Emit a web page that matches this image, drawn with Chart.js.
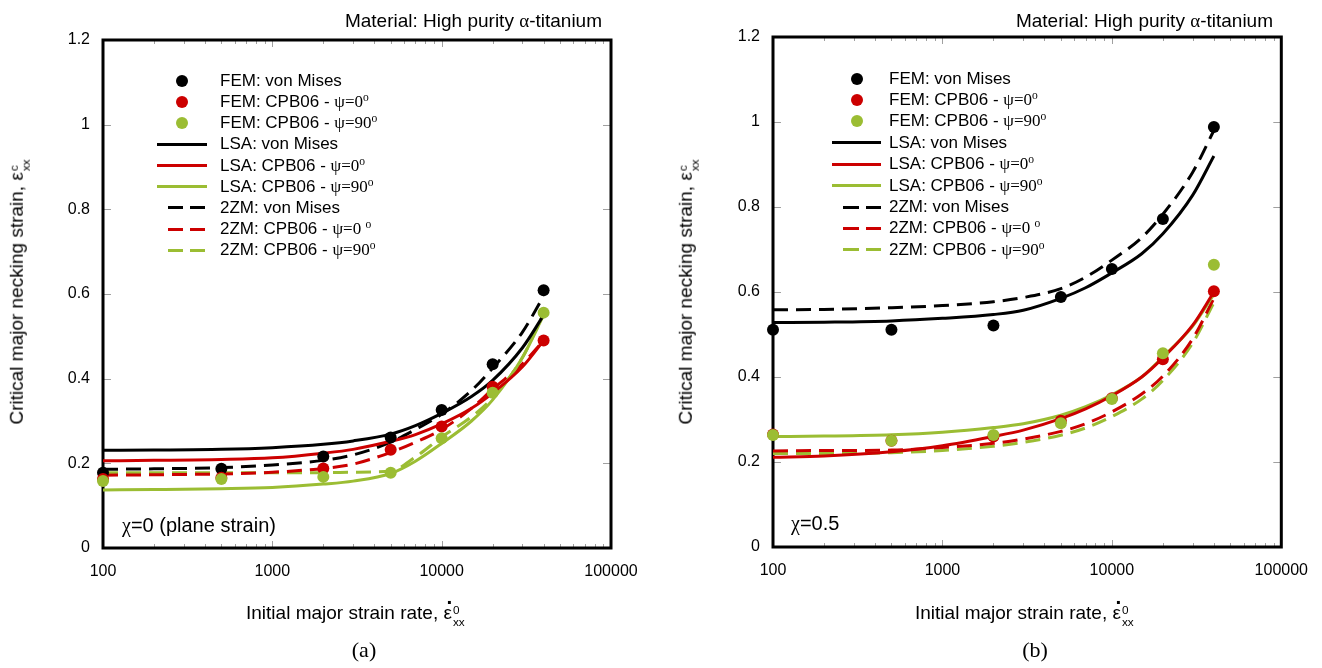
<!DOCTYPE html>
<html>
<head>
<meta charset="utf-8">
<script src="https://cdn.jsdelivr.net/npm/chart.js@4.4.1/dist/chart.umd.min.js"></script>
<style>
  body { margin: 0; background: #fff; }
  #page { position: relative; width: 1322px; height: 668px; overflow: hidden; font-family: "Liberation Sans", Arial, sans-serif; color: #000; }
  canvas { position: absolute; top: 0; }
  .txt { position: absolute; white-space: nowrap; }
  .gr { font-family: "Liberation Serif", "Times New Roman", serif; }
  .deg { font-size: 0.68em; vertical-align: 0.55em; line-height: 0; }
  .st { display: inline-block; font-size: 0.62em; line-height: 1.05; vertical-align: -0.6em; margin-left: 1px; }
  .st span { display: block; }
  .ed { position: relative; display: inline-block; }
  .ed b { position: absolute; left: 3px; top: -16px; font-weight: bold; font-size: 1.1em; }
  .title { font-size: 19px; line-height: 22px; text-align: right; }
  .axt { font-size: 19px; line-height: 22px; }
  .leg { font-size: 17px; line-height: 20px; }
  .mk { position: absolute; }
  .cap { font-family: "Liberation Serif", "Times New Roman", serif; font-size: 22px; line-height: 24px; }
</style>
</head>
<body>
<div id="page">
  <canvas id="chartA" width="660" height="668" style="left:0"></canvas>
  <canvas id="chartB" width="662" height="668" style="left:660px"></canvas>
</div>
<script>
// strain rates where FEM runs were made, and where the model curves are read
const rateFem = [100, 500, 2000, 5000, 10000, 20000, 40000];
const rateModel = [100, 200, 500, 1000, 2000, 3000, 5000, 7000, 10000, 15000, 20000, 30000, 40000];
const xTickValues = [100, 1000, 10000, 100000];

// (a) chi = 0, plane strain
const femMisesA = [0.178, 0.187, 0.216, 0.261, 0.326, 0.434, 0.609];
const femPsi0A = [0.163, 0.166, 0.188, 0.232, 0.287, 0.381, 0.49];
const femPsi90A = [0.158, 0.163, 0.168, 0.178, 0.259, 0.367, 0.556];
const lsaMisesA = [0.231, 0.2315, 0.233, 0.237, 0.245, 0.253, 0.269, 0.289, 0.318, 0.358, 0.396, 0.473, 0.55];
const lsaPsi0A = [0.206, 0.207, 0.209, 0.213, 0.224, 0.233, 0.252, 0.268, 0.293, 0.33, 0.366, 0.428, 0.49];
const lsaPsi90A = [0.137, 0.138, 0.14, 0.143, 0.151, 0.158, 0.176, 0.205, 0.247, 0.3, 0.35, 0.45, 0.55];
const zmMisesA = [0.186, 0.187, 0.19, 0.196, 0.207, 0.22, 0.25, 0.28, 0.316, 0.372, 0.425, 0.51, 0.595];
const zmPsi0A = [0.172, 0.173, 0.175, 0.179, 0.188, 0.198, 0.226, 0.25, 0.28, 0.33, 0.375, 0.435, 0.49];
const zmPsi90A = [0.178, 0.178, 0.178, 0.178, 0.178, 0.179, 0.182, 0.215, 0.262, 0.31, 0.355, 0.45, 0.555];

// (b) chi = 0.5
const femMisesB = [0.511, 0.511, 0.521, 0.588, 0.654, 0.772, 0.988];
const femPsi0B = [0.265, 0.25, 0.26, 0.297, 0.35, 0.442, 0.602];
const femPsi90B = [0.2635, 0.25, 0.2635, 0.291, 0.348, 0.456, 0.664];
const lsaMisesB = [0.528, 0.529, 0.532, 0.538, 0.547, 0.557, 0.585, 0.61, 0.645, 0.69, 0.737, 0.828, 0.92];
const lsaPsi0B = [0.211, 0.214, 0.224, 0.238, 0.26, 0.275, 0.302, 0.325, 0.356, 0.4, 0.445, 0.522, 0.6];
const lsaPsi90B = [0.26, 0.261, 0.264, 0.27, 0.281, 0.29, 0.31, 0.33, 0.358, 0.4, 0.447, 0.52, 0.595];
const zmMisesB = [0.558, 0.559, 0.563, 0.568, 0.577, 0.587, 0.608, 0.635, 0.675, 0.728, 0.783, 0.882, 0.98];
const zmPsi0B = [0.226, 0.227, 0.228, 0.234, 0.244, 0.254, 0.272, 0.29, 0.318, 0.36, 0.402, 0.49, 0.585];
const zmPsi90B = [0.22, 0.22, 0.222, 0.227, 0.237, 0.246, 0.263, 0.28, 0.307, 0.348, 0.392, 0.48, 0.575];

const BLACK = '#000000', RED = '#cc0000', GREEN = '#9bbd33';
const FONT = '"Liberation Sans", Arial, sans-serif';

const legendLabels = [
  'FEM: von Mises',
  'FEM: CPB06 - <span class="gr">&psi;=0<span class="deg">o</span></span>',
  'FEM: CPB06 - <span class="gr">&psi;=90<span class="deg">o</span></span>',
  'LSA: von Mises',
  'LSA: CPB06 - <span class="gr">&psi;=0<span class="deg">o</span></span>',
  'LSA: CPB06 - <span class="gr">&psi;=90<span class="deg">o</span></span>',
  '2ZM: von Mises',
  '2ZM: CPB06 - <span class="gr">&psi;=0 <span class="deg">o</span></span>',
  '2ZM: CPB06 - <span class="gr">&psi;=90<span class="deg">o</span></span>'
];
const legendKinds = ['dot', 'dot', 'dot', 'solid', 'solid', 'solid', 'dash', 'dash', 'dash'];
const legendColors = [BLACK, RED, GREEN, BLACK, RED, GREEN, BLACK, RED, GREEN];

const pts = (xs, ys) => xs.map((x, i) => ({ x: x, y: ys[i] }));

function femSet(ys, color) {
  return { data: pts(rateFem, ys), showLine: false, pointRadius: 6, pointHoverRadius: 6,
    pointBackgroundColor: color, pointBorderWidth: 0, clip: false };
}
function curveSet(ys, color, dashed) {
  return { data: pts(rateModel, ys), showLine: true, pointRadius: 0, borderColor: color,
    borderWidth: 3, borderDash: dashed ? [15, 8] : [], cubicInterpolationMode: 'monotone', clip: false };
}

// frame and small inward tick marks, drawn under the data
const framePlugin = {
  id: 'frame',
  beforeDatasetsDraw(chart) {
    const { ctx, chartArea: a, scales: { x, y } } = chart;
    ctx.save();
    ctx.strokeStyle = '#a0a0a0';
    ctx.lineWidth = 1;
    ctx.beginPath();
    y.ticks.forEach(t => {
      const py = Math.round(y.getPixelForValue(t.value)) + 0.5;
      ctx.moveTo(a.left, py); ctx.lineTo(a.left + 8, py);
      ctx.moveTo(a.right - 8, py); ctx.lineTo(a.right, py);
    });
    for (let d = 100; d < 100000; d *= 10) {
      for (let m = 1; m < 10; m++) {
        const px = Math.round(x.getPixelForValue(d * m)) + 0.5;
        const len = m === 1 ? 7 : 4;
        ctx.moveTo(px, a.bottom); ctx.lineTo(px, a.bottom - len);
        ctx.moveTo(px, a.top); ctx.lineTo(px, a.top + len);
      }
    }
    ctx.stroke();
    ctx.strokeStyle = '#000';
    ctx.lineWidth = 3;
    ctx.strokeRect(a.left, a.top, a.right - a.left, a.bottom - a.top);
    ctx.restore();
  }
};

function makeChart(id, s, pad) {
  const tickFont = { family: FONT, size: 16 };
  return new Chart(document.getElementById(id), {
    type: 'scatter',
    data: {
      datasets: [
        femSet(s.fem90, GREEN), femSet(s.fem0, RED), femSet(s.femVM, BLACK),
        curveSet(s.lsaVM, BLACK, false), curveSet(s.lsa0, RED, false), curveSet(s.lsa90, GREEN, false),
        curveSet(s.zmVM, BLACK, true), curveSet(s.zm0, RED, true), curveSet(s.zm90, GREEN, true)
      ]
    },
    options: {
      responsive: false,
      animation: false,
      devicePixelRatio: 1,
      layout: { padding: pad },
      plugins: { legend: { display: false }, tooltip: { enabled: false } },
      scales: {
        x: {
          type: 'logarithmic', min: 100, max: 100000,
          grid: { display: false, drawTicks: false }, border: { display: false },
          afterBuildTicks: sc => { sc.ticks = xTickValues.map(v => ({ value: v })); },
          afterFit: sc => { sc.height = 50; },
          ticks: { font: tickFont, color: '#000', padding: 14, maxRotation: 0, autoSkip: false,
            callback: v => String(v) }
        },
        y: {
          min: 0, max: 1.2,
          grid: { display: false, drawTicks: false }, border: { display: false },
          afterFit: sc => { sc.width = 60; },
          ticks: { stepSize: 0.2, font: tickFont, color: '#000', padding: 13,
            callback: v => String(Math.round(v * 10) / 10) }
        }
      }
    },
    plugins: [framePlugin]
  });
}

makeChart('chartA', {
  femVM: femMisesA, fem0: femPsi0A, fem90: femPsi90A,
  lsaVM: lsaMisesA, lsa0: lsaPsi0A, lsa90: lsaPsi90A,
  zmVM: zmMisesA, zm0: zmPsi0A, zm90: zmPsi90A
}, { left: 43, right: 49, top: 40, bottom: 70 });

makeChart('chartB', {
  femVM: femMisesB, fem0: femPsi0B, fem90: femPsi90B,
  lsaVM: lsaMisesB, lsa0: lsaPsi0B, lsa90: lsaPsi90B,
  zmVM: zmMisesB, zm0: zmPsi0B, zm90: zmPsi90B
}, { left: 53, right: 40, top: 37, bottom: 71 });

// text overlays
const page = document.getElementById('page');
function addText(cls, html, css) {
  const d = document.createElement('div');
  d.className = 'txt ' + cls;
  d.innerHTML = html;
  Object.assign(d.style, css);
  page.appendChild(d);
  return d;
}
function addMark(css) {
  const d = document.createElement('div');
  d.className = 'mk';
  Object.assign(d.style, css);
  page.appendChild(d);
}

const titleHtml = 'Material: High purity <span class="gr">&alpha;</span>-titanium';
const yTitleHtml = 'Critical major necking strain, &epsilon;<span class="st"><span>c</span><span>xx</span></span>';
const xTitleHtml = 'Initial major strain rate, <span class="ed">&epsilon;<b>.</b></span><span class="st"><span>0</span><span>xx</span></span>';

function panelText(p) {
  addText('title', titleHtml, { left: '0px', width: p.titleRight + 'px', top: '10px' });
  const yt = addText('axt', yTitleHtml, { left: p.yTitleX + 'px', top: '292px' });
  yt.style.transform = 'translate(-50%, -50%) rotate(-90deg)';
  addText('axt', xTitleHtml, { left: p.xTitleLeft + 'px', top: '602px' });
  addText('axt', p.note, { left: p.noteX + 'px', top: (p.noteY - 11) + 'px', fontSize: '20px' });
  const c = addText('cap', p.caption, { left: p.capX + 'px', top: '638px' });
  c.style.transform = 'translateX(-50%)';
  legendLabels.forEach((lab, i) => {
    const cy = p.legY + i * p.legStep;
    addText('leg', lab, { left: p.textX + 'px', top: (cy - 10) + 'px' });
    const col = legendColors[i];
    if (legendKinds[i] === 'dot') {
      addMark({ left: (p.dotX - 6) + 'px', top: (cy - 6) + 'px', width: '12px', height: '12px', borderRadius: '50%', background: col });
    } else if (legendKinds[i] === 'solid') {
      addMark({ left: p.solid[0] + 'px', top: (cy - 1.5) + 'px', width: (p.solid[1] - p.solid[0]) + 'px', height: '3px', background: col });
    } else {
      p.dash.forEach(seg => addMark({ left: seg[0] + 'px', top: (cy - 1.5) + 'px', width: (seg[1] - seg[0]) + 'px', height: '3px', background: col }));
    }
  });
}

panelText({
  titleRight: 602, yTitleX: 19, xTitleLeft: 246, caption: '(a)', capX: 364,
  note: '<span class="gr">&chi;</span>=0 (plane strain)', noteX: 122, noteY: 525,
  legY: 80.7, legStep: 21.2, dotX: 182, textX: 220, solid: [157, 207], dash: [[168, 183], [190, 205]]
});
panelText({
  titleRight: 1273, yTitleX: 688, xTitleLeft: 915, caption: '(b)', capX: 1035,
  note: '<span class="gr">&chi;</span>=0.5', noteX: 791, noteY: 523,
  legY: 78.6, legStep: 21.4, dotX: 857, textX: 889, solid: [832, 881], dash: [[843, 859], [866, 881]]
});
</script>
</body>
</html>
